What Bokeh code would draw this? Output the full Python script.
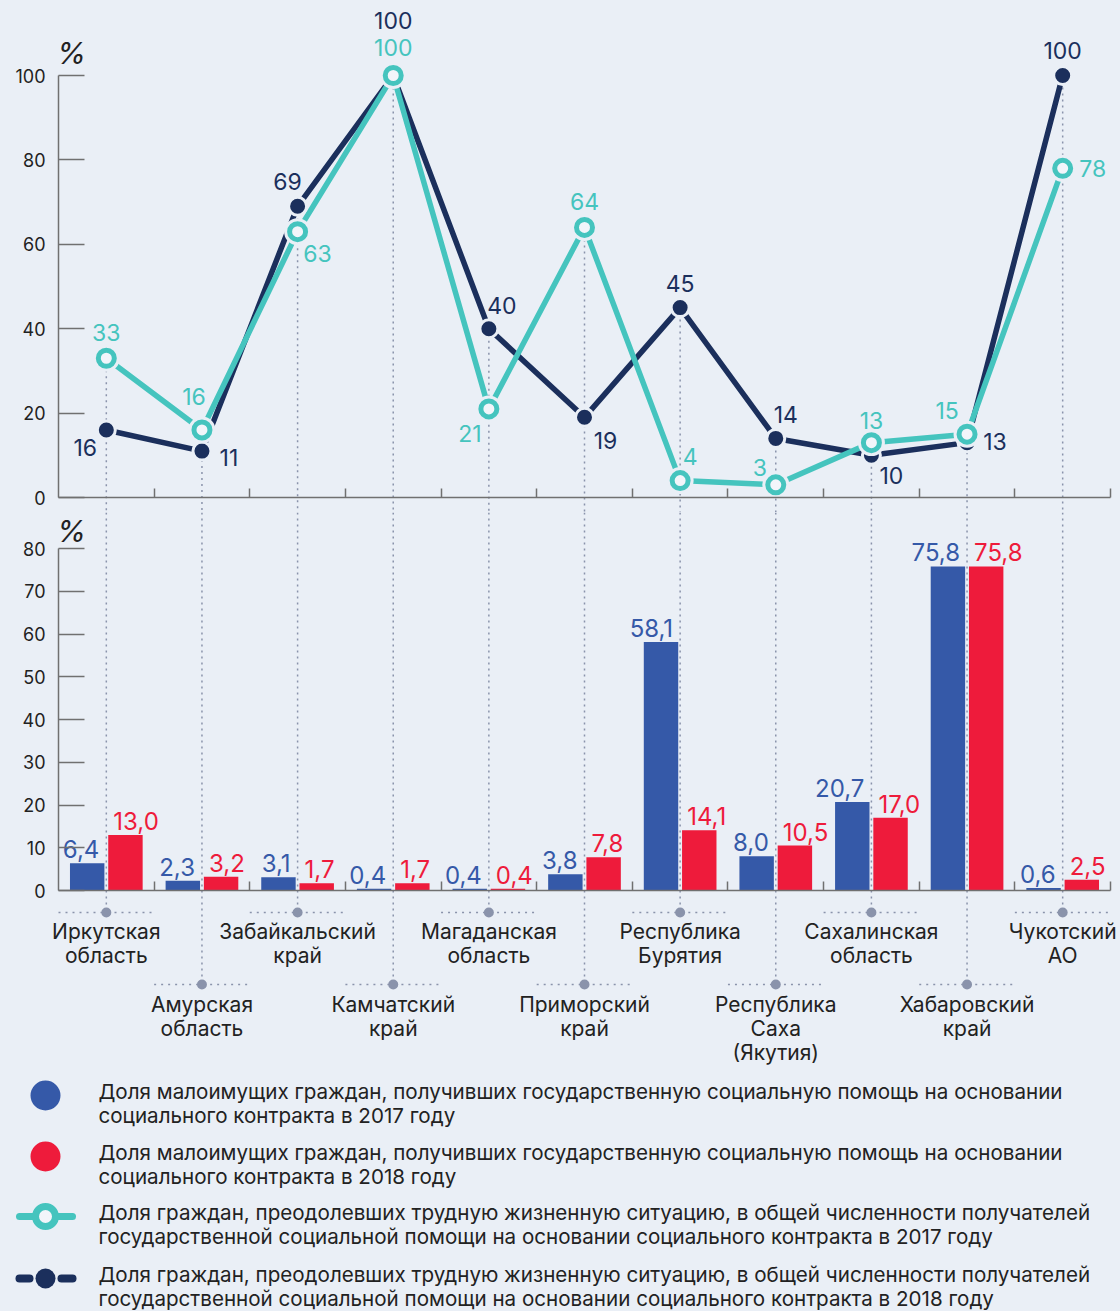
from bokeh.plotting import figure
from bokeh.models import Range1d, FixedTicker, LinearAxis, ColumnDataSource
from bokeh.layouts import column
from bokeh.embed import file_html
from bokeh.resources import INLINE
from bokeh.core.properties import value

# ---------------- data ----------------
categories = [
    "Иркутская\nобласть", "Амурская\nобласть", "Забайкальский\nкрай",
    "Камчатский\nкрай", "Магаданская\nобласть", "Приморский\nкрай",
    "Республика\nБурятия", "Республика\nСаха\n(Якутия)", "Сахалинская\nобласть",
    "Хабаровский\nкрай", "Чукотский\nАО",
]
help_2017 = [6.4, 2.3, 3.1, 0.4, 0.4, 3.8, 58.1, 8.0, 20.7, 75.8, 0.6]
help_2018 = [13.0, 3.2, 1.7, 1.7, 0.4, 7.8, 14.1, 10.5, 17.0, 75.8, 2.5]
overcome_2017 = [33, 16, 63, 100, 21, 64, 4, 3, 13, 15, 78]
overcome_2018 = [16, 11, 69, 100, 40, 19, 45, 14, 10, 13, 100]
line_ticks = [0, 20, 40, 60, 80, 100]
bar_ticks = [0, 10, 20, 30, 40, 50, 60, 70, 80]
legend_texts = [
    "Доля малоимущих граждан, получивших государственную социальную помощь на основании\nсоциального контракта в 2017 году",
    "Доля малоимущих граждан, получивших государственную социальную помощь на основании\nсоциального контракта в 2018 году",
    "Доля граждан, преодолевших трудную жизненную ситуацию, в общей численности получателей\nгосударственной социальной помощи на основании социального контракта в 2017 году",
    "Доля граждан, преодолевших трудную жизненную ситуацию, в общей численности получателей\nгосударственной социальной помощи на основании социального контракта в 2018 году",
]

# ---------------- styles ----------------
FONT = "Inter"
BG = "#EAEFF6"
NAVY = "#1B2F5C"
TEAL = "#45C4BE"
BLUE = "#3559A8"
RED = "#EE1B3B"
AX = "#707070"
DOT = "#8A93AB"
TXT = "#222222"
W = 1120
AXIS_X = 58          # pixel position of the value axes
PLOT_R = 1110        # pixel position of the right end of the category axis

# label offsets (pixels) for line values
navy_dx = [-21, 27, -10, 0, 13, 21, 0, 10, 20, 28, 0]
navy_dy = [18, 6, -25, -55, -23, 23, -24, -24, 20, -1, -25]
teal_dx = [0, -8, 20, 0, -19, 0, 10, -16, 0, -20, 30]
teal_dy = [-26, -33, 22, -28, 25, -26, -24, -17, -22, -24, 0]

n = len(categories)
xs = [i + 0.5 for i in range(n)]
PXC = (PLOT_R - AXIS_X) / n
X_RANGE = (-AXIS_X / PXC, (W - AXIS_X) / PXC)


def base_fig(height, y_range):
    p = figure(width=W, height=height, x_range=Range1d(*X_RANGE), y_range=y_range,
               output_backend="svg", toolbar_location=None,
               x_axis_location=None, y_axis_location=None,
               min_border=0, background_fill_color=BG, border_fill_color=BG,
               outline_line_color=None)
    p.grid.visible = False
    return p


def add_axes(p, ymax, ticks):
    yax = LinearAxis(fixed_location=0, bounds=(0, ymax), ticker=FixedTicker(ticks=ticks),
                     major_tick_in=26, major_tick_out=0,
                     minor_tick_line_color=None, axis_line_color=AX,
                     axis_line_width=1.5, major_tick_line_color=AX,
                     major_tick_line_width=1.5,
                     major_label_standoff=13, major_label_text_font=FONT,
                     major_label_text_font_size="18px",
                     major_label_text_color=TXT)
    p.add_layout(yax, "left")
    xax = LinearAxis(fixed_location=0, bounds=(0, n),
                     ticker=FixedTicker(ticks=list(range(1, n + 1))),
                     major_tick_in=9, major_tick_out=0,
                     minor_tick_line_color=None, axis_line_color=AX,
                     axis_line_width=1.5, major_tick_line_color=AX,
                     major_tick_line_width=1.5,
                     major_label_text_color=None, major_label_standoff=0)
    p.add_layout(xax, "below")


# ---------------- top: line chart ----------------
H1 = 512
PPU1 = 4.22
y1_start = -15 / PPU1
p1 = base_fig(H1, Range1d(y1_start, y1_start + H1 / PPU1))
add_axes(p1, 100, line_ticks)

tops = [max(a, b) for a, b in zip(overcome_2017, overcome_2018)]
p1.segment(x0=xs, y0=tops, x1=xs, y1=[y1_start] * n, line_color=DOT,
           line_width=1.5, line_dash="2 4")

p1.line(xs, overcome_2018, line_color=NAVY, line_width=5.5)
p1.line(xs, overcome_2017, line_color=TEAL, line_width=5.5)
p1.scatter(xs, overcome_2018, size=18, fill_color=NAVY, line_color=BG, line_width=3)
p1.scatter(xs, overcome_2017, size=27, fill_color=BG, line_color=None)
p1.scatter(xs, overcome_2017, size=16, fill_color="#F2F5FA", line_color=TEAL, line_width=5)

src18 = ColumnDataSource(dict(x=xs, y=overcome_2018, t=[str(v) for v in overcome_2018],
                              dx=navy_dx, dy=navy_dy))
src17 = ColumnDataSource(dict(x=xs, y=overcome_2017, t=[str(v) for v in overcome_2017],
                              dx=teal_dx, dy=teal_dy))
for src, col in ((src18, NAVY), (src17, TEAL)):
    p1.text(x="x", y="y", text="t", x_offset="dx", y_offset="dy", source=src,
            text_align="center", text_baseline="middle", text_color=col,
            text_font=value(FONT), text_font_size="23px")

p1.text(x=[0], y=[100], text=["%"], x_offset=13, y_offset=-23,
        text_align="center", text_baseline="middle", text_color=TXT,
        text_font=value(FONT), text_font_size="30px", text_font_style="italic")

# ---------------- bottom: bar chart ----------------
H2 = 556
PPU2 = 4.275
y2_start = -178 / PPU2
y2_end = y2_start + H2 / PPU2
p2 = base_fig(H2, Range1d(y2_start, y2_end))
add_axes(p2, 80, bar_ticks)

row1_y = -22 / PPU2
row2_y = -94 / PPU2
dot_y = [row1_y if i % 2 == 0 else row2_y for i in range(n)]
p2.segment(x0=xs, y0=[y2_end] * n, x1=xs, y1=dot_y, line_color=DOT,
           line_width=1.5, line_dash="2 4")
p2.segment(x0=[i for i in range(n)], y0=dot_y, x1=[i + 1 for i in range(n)], y1=dot_y,
           line_color=DOT, line_width=1.5, line_dash="2 5")
p2.scatter(xs, dot_y, size=10, fill_color=DOT, line_color=None)

p2.vbar(x=[x - 0.2 for x in xs], top=help_2017, width=0.36, fill_color=BLUE, line_color=None)
p2.vbar(x=[x + 0.2 for x in xs], top=help_2018, width=0.36, fill_color=RED, line_color=None)


def fmt(v):
    return f"{v:.1f}".replace(".", ",")


p2.text(x=xs, y=help_2017, text=[fmt(v) for v in help_2017], x_offset=-7, y_offset=-14,
        text_align="right", text_baseline="middle", text_color=BLUE,
        text_font=value(FONT), text_font_size="24px")
p2.text(x=xs, y=help_2018, text=[fmt(v) for v in help_2018], x_offset=7, y_offset=-14,
        text_align="left", text_baseline="middle", text_color=RED,
        text_font=value(FONT), text_font_size="24px")

lx, ly, lt, lo = [], [], [], []
for i, c in enumerate(categories):
    base = 41 if i % 2 == 0 else 114
    for j, line in enumerate(c.split("\n")):
        lx.append(xs[i])
        ly.append(0)
        lt.append(line)
        lo.append(base + 24 * j)
p2.text(x=lx, y=ly, text=lt, y_offset=lo, text_align="center", text_baseline="middle",
        text_color=TXT, text_font=value(FONT), text_font_size="21px")

p2.text(x=[0], y=[80], text=["%"], x_offset=13, y_offset=-18,
        text_align="center", text_baseline="middle", text_color=TXT,
        text_font=value(FONT), text_font_size="30px", text_font_style="italic")

# ---------------- legend ----------------
TOP3 = H1 + H2
H3 = 1311 - TOP3
p3 = figure(width=W, height=H3, x_range=Range1d(0, W), y_range=Range1d(TOP3 + H3, TOP3),
            output_backend="svg", toolbar_location=None,
            x_axis_location=None, y_axis_location=None,
            min_border=0, background_fill_color=BG, border_fill_color=BG,
            outline_line_color=None)
p3.grid.visible = False
cy = [1095, 1156, 1216, 1278]
p3.scatter([45], [cy[0]], size=30, fill_color=BLUE, line_color=None)
p3.scatter([45], [cy[1]], size=30, fill_color=RED, line_color=None)
p3.segment(x0=[19], y0=[cy[2]], x1=[72], y1=[cy[2]], line_color=TEAL, line_width=7, line_cap="round")
p3.scatter([45], [cy[2]], size=20, fill_color="#F2F5FA", line_color=TEAL, line_width=7)
p3.segment(x0=[19, 61], y0=[cy[3]] * 2, x1=[29, 72], y1=[cy[3]] * 2, line_color=NAVY,
           line_width=8, line_cap="round")
p3.scatter([45], [cy[3]], size=20, fill_color=NAVY, line_color=None)

tx, ty, tt = [], [], []
for c, t in zip(cy, legend_texts):
    for j, line in enumerate(t.split("\n")):
        tx.append(98)
        ty.append(c - 4 + 24 * j)
        tt.append(line)
p3.text(x=tx, y=ty, text=tt, text_align="left", text_baseline="middle",
        text_color=TXT, text_font=value(FONT), text_font_size="20.6px")

layout = column(p1, p2, p3, spacing=0, styles={"background-color": BG})
open("out.html", "w").write(file_html(layout, INLINE))
